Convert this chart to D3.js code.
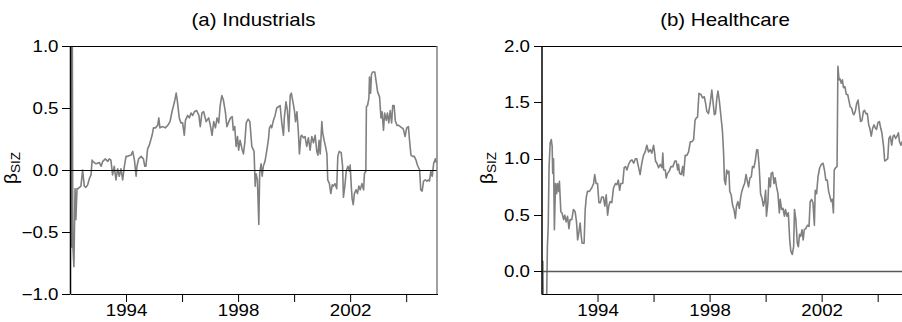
<!DOCTYPE html>
<html>
<head>
<meta charset="utf-8">
<script src="https://cdn.jsdelivr.net/npm/d3@7"></script>
<style>
  body { margin: 0; background: #fff; }
  svg { display: block; }
</style>
</head>
<body>
<div id="chart"></div>
<script>
// beta_SIZ estimates: [decimal year, beta]
const indPoints = [
  [1992.00, 1.40], [1992.02, -0.62], [1992.04, 1.40], [1992.06, -0.62], [1992.08, 1.40],
  [1992.10, -0.60], [1992.14, -0.78], [1992.18, -0.15], [1992.21, -0.40], [1992.25, -0.15],
  [1992.29, -0.15], [1992.39, -0.13], [1992.45, 0.00], [1992.51, -0.13], [1992.57, -0.14],
  [1992.63, -0.12], [1992.69, -0.07], [1992.75, -0.04], [1992.79, 0.08], [1992.81, 0.07],
  [1992.93, 0.05], [1993.05, 0.06], [1993.11, 0.03], [1993.17, 0.07], [1993.26, 0.09],
  [1993.35, 0.07], [1993.40, 0.09], [1993.46, 0.08], [1993.52, -0.04], [1993.58, 0.03],
  [1993.64, -0.08], [1993.70, 0.01], [1993.76, -0.05], [1993.82, 0.01], [1993.88, -0.08],
  [1993.94, 0.03], [1994.00, 0.11], [1994.06, 0.11], [1994.18, 0.12], [1994.24, 0.15],
  [1994.30, 0.08], [1994.36, -0.05], [1994.39, 0.03], [1994.45, 0.09], [1994.54, 0.11],
  [1994.62, 0.09], [1994.67, 0.03], [1994.71, 0.03], [1994.77, 0.17], [1994.83, 0.20],
  [1994.93, 0.28], [1994.98, 0.34], [1995.05, 0.34], [1995.13, 0.36], [1995.17, 0.42],
  [1995.21, 0.34], [1995.31, 0.35], [1995.40, 0.34], [1995.49, 0.36], [1995.57, 0.39],
  [1995.64, 0.47], [1995.73, 0.55], [1995.79, 0.62], [1995.83, 0.56], [1995.90, 0.42],
  [1995.96, 0.38], [1996.02, 0.38], [1996.08, 0.28], [1996.12, 0.40], [1996.20, 0.44],
  [1996.26, 0.42], [1996.32, 0.46], [1996.38, 0.44], [1996.44, 0.47], [1996.52, 0.48],
  [1996.60, 0.44], [1996.65, 0.35], [1996.71, 0.46], [1996.77, 0.47], [1996.86, 0.39],
  [1996.95, 0.42], [1997.01, 0.36], [1997.07, 0.28], [1997.13, 0.39], [1997.19, 0.34],
  [1997.25, 0.42], [1997.31, 0.38], [1997.36, 0.52], [1997.42, 0.60], [1997.48, 0.56],
  [1997.55, 0.46], [1997.60, 0.35], [1997.67, 0.39], [1997.73, 0.42], [1997.79, 0.43],
  [1997.83, 0.32], [1997.88, 0.35], [1997.93, 0.19], [1997.98, 0.27], [1998.02, 0.16],
  [1998.07, 0.24], [1998.14, 0.17], [1998.19, 0.13], [1998.24, 0.22], [1998.29, 0.38],
  [1998.36, 0.41], [1998.42, 0.39], [1998.49, 0.19], [1998.57, 0.15], [1998.61, -0.13],
  [1998.64, -0.03], [1998.69, -0.08], [1998.74, -0.44], [1998.77, -0.03], [1998.82, 0.05],
  [1998.86, -0.05], [1998.90, 0.03], [1998.96, 0.07], [1999.02, 0.15], [1999.08, 0.24],
  [1999.12, 0.34], [1999.17, 0.36], [1999.20, 0.34], [1999.26, 0.40], [1999.32, 0.44],
  [1999.38, 0.50], [1999.44, 0.51], [1999.50, 0.52], [1999.56, 0.38], [1999.62, 0.28],
  [1999.65, 0.42], [1999.71, 0.55], [1999.76, 0.48], [1999.81, 0.31], [1999.86, 0.60],
  [1999.90, 0.62], [1999.95, 0.56], [2000.01, 0.48], [2000.05, 0.39], [2000.10, 0.47],
  [2000.15, 0.31], [2000.19, 0.13], [2000.24, 0.27], [2000.27, 0.28], [2000.33, 0.26],
  [2000.39, 0.27], [2000.45, 0.19], [2000.51, 0.26], [2000.57, 0.16], [2000.63, 0.27],
  [2000.69, 0.22], [2000.75, 0.28], [2000.81, 0.15], [2000.85, 0.12], [2000.89, 0.24],
  [2000.93, 0.13], [2000.99, 0.39], [2001.02, 0.30], [2001.07, 0.24], [2001.12, 0.19],
  [2001.17, 0.13], [2001.20, -0.08], [2001.26, -0.11], [2001.31, -0.19], [2001.36, -0.12],
  [2001.40, -0.13], [2001.46, -0.11], [2001.52, -0.15], [2001.56, 0.11], [2001.61, 0.15],
  [2001.68, 0.14], [2001.73, 0.03], [2001.76, -0.22], [2001.81, -0.13], [2001.86, -0.01],
  [2001.92, 0.03], [2001.98, -0.01], [2002.00, 0.04], [2002.04, -0.13], [2002.07, -0.23],
  [2002.11, -0.28], [2002.15, -0.19], [2002.21, -0.16], [2002.26, -0.19], [2002.31, -0.13],
  [2002.36, -0.16], [2002.42, -0.11], [2002.48, -0.16], [2002.51, -0.03], [2002.56, -0.01],
  [2002.58, 0.51], [2002.62, 0.52], [2002.67, 0.58], [2002.69, 0.75], [2002.73, 0.62],
  [2002.76, 0.77], [2002.80, 0.79], [2002.88, 0.79], [2002.93, 0.71], [2002.98, 0.63],
  [2003.05, 0.59], [2003.10, 0.42], [2003.14, 0.47], [2003.19, 0.32], [2003.23, 0.46],
  [2003.29, 0.40], [2003.33, 0.46], [2003.38, 0.38], [2003.43, 0.48], [2003.48, 0.38],
  [2003.52, 0.52], [2003.57, 0.52], [2003.61, 0.40], [2003.67, 0.36], [2003.73, 0.36],
  [2003.79, 0.35], [2003.85, 0.34], [2003.90, 0.33], [2003.96, 0.27], [2004.02, 0.34],
  [2004.08, 0.35], [2004.12, 0.24], [2004.17, 0.12], [2004.23, 0.11], [2004.29, 0.11],
  [2004.35, 0.08], [2004.40, 0.04], [2004.48, 0.00], [2004.52, -0.16], [2004.57, -0.17],
  [2004.62, -0.09], [2004.68, -0.08], [2004.74, -0.09], [2004.80, -0.08], [2004.83, -0.09],
  [2004.88, -0.01], [2004.93, -0.05], [2004.98, 0.05], [2005.04, 0.09], [2005.07, 0.06]
]

const hcPoints = [
  [1992.00, 0.09], [1992.05, 0.09], [1992.07, -0.50], [1992.17, -0.50], [1992.21, 0.22],
  [1992.24, 0.40], [1992.27, 0.93], [1992.31, 1.14], [1992.35, 1.17], [1992.38, 1.11],
  [1992.40, 0.87], [1992.43, 1.00], [1992.46, 0.37], [1992.50, 0.78], [1992.54, 0.69],
  [1992.57, 0.78], [1992.61, 0.71], [1992.64, 0.80], [1992.69, 0.53], [1992.73, 0.52],
  [1992.79, 0.46], [1992.83, 0.50], [1992.88, 0.44], [1992.93, 0.49], [1992.98, 0.38],
  [1993.02, 0.46], [1993.08, 0.46], [1993.14, 0.55], [1993.20, 0.53], [1993.25, 0.44],
  [1993.29, 0.28], [1993.33, 0.34], [1993.38, 0.43], [1993.42, 0.31], [1993.45, 0.25],
  [1993.52, 0.25], [1993.56, 0.55], [1993.60, 0.66], [1993.64, 0.71], [1993.71, 0.71],
  [1993.79, 0.74], [1993.86, 0.78], [1993.90, 0.86], [1993.95, 0.78], [1994.00, 0.78],
  [1994.05, 0.61], [1994.10, 0.61], [1994.15, 0.66], [1994.21, 0.66], [1994.26, 0.58],
  [1994.31, 0.68], [1994.36, 0.50], [1994.40, 0.58], [1994.45, 0.62], [1994.51, 0.61],
  [1994.57, 0.74], [1994.64, 0.78], [1994.69, 0.77], [1994.74, 0.81], [1994.79, 0.72],
  [1994.83, 0.78], [1994.90, 0.78], [1994.95, 0.92], [1995.00, 0.93], [1995.05, 0.90],
  [1995.11, 0.95], [1995.17, 0.98], [1995.23, 0.99], [1995.29, 0.96], [1995.35, 1.00],
  [1995.40, 1.00], [1995.46, 0.93], [1995.52, 0.86], [1995.58, 0.96], [1995.64, 1.03],
  [1995.70, 1.06], [1995.76, 1.12], [1995.82, 1.06], [1995.88, 1.08], [1995.94, 1.05],
  [1996.00, 1.12], [1996.04, 1.05], [1996.07, 0.98], [1996.12, 0.96], [1996.18, 0.92],
  [1996.24, 0.95], [1996.30, 0.92], [1996.33, 1.05], [1996.36, 0.90], [1996.42, 0.90],
  [1996.45, 0.83], [1996.50, 0.87], [1996.56, 0.89], [1996.62, 0.93], [1996.69, 0.93],
  [1996.76, 0.98], [1996.81, 0.98], [1996.86, 0.90], [1996.89, 0.95], [1996.93, 0.87],
  [1996.99, 0.86], [1997.04, 0.93], [1997.07, 0.85], [1997.13, 1.03], [1997.19, 1.03],
  [1997.25, 1.06], [1997.31, 1.15], [1997.37, 1.15], [1997.43, 1.17], [1997.48, 1.34],
  [1997.52, 1.36], [1997.57, 1.37], [1997.62, 1.58], [1997.69, 1.57], [1997.75, 1.54],
  [1997.81, 1.55], [1997.86, 1.49], [1997.90, 1.42], [1997.96, 1.40], [1998.02, 1.49],
  [1998.08, 1.61], [1998.12, 1.51], [1998.17, 1.39], [1998.21, 1.40], [1998.26, 1.54],
  [1998.30, 1.60], [1998.35, 1.51], [1998.40, 1.39], [1998.46, 1.24], [1998.50, 1.05],
  [1998.53, 0.81], [1998.57, 0.77], [1998.61, 0.90], [1998.65, 0.87], [1998.69, 0.89],
  [1998.72, 0.71], [1998.77, 0.68], [1998.82, 0.59], [1998.87, 0.55], [1998.92, 0.47],
  [1998.96, 0.58], [1999.01, 0.62], [1999.06, 0.56], [1999.11, 0.66], [1999.15, 0.71],
  [1999.20, 0.75], [1999.25, 0.78], [1999.30, 0.86], [1999.34, 0.81], [1999.39, 0.75],
  [1999.44, 0.83], [1999.49, 0.84], [1999.53, 0.93], [1999.58, 0.92], [1999.63, 0.98],
  [1999.68, 1.08], [1999.72, 1.08], [1999.77, 0.93], [1999.82, 0.69], [1999.87, 0.65],
  [1999.92, 0.58], [1999.96, 0.62], [2000.00, 0.72], [2000.03, 0.49], [2000.08, 0.61],
  [2000.12, 0.83], [2000.17, 0.75], [2000.20, 0.87], [2000.25, 0.88], [2000.30, 0.78],
  [2000.34, 0.83], [2000.39, 0.75], [2000.44, 0.69], [2000.49, 0.52], [2000.52, 0.64],
  [2000.57, 0.55], [2000.62, 0.56], [2000.67, 0.49], [2000.71, 0.55], [2000.76, 0.49],
  [2000.81, 0.52], [2000.86, 0.28], [2000.90, 0.18], [2000.95, 0.15], [2001.00, 0.22],
  [2001.03, 0.55], [2001.08, 0.46], [2001.13, 0.25], [2001.17, 0.22], [2001.21, 0.33],
  [2001.25, 0.31], [2001.30, 0.37], [2001.34, 0.28], [2001.38, 0.37], [2001.43, 0.38],
  [2001.49, 0.41], [2001.55, 0.40], [2001.59, 0.62], [2001.64, 0.64], [2001.69, 0.61],
  [2001.74, 0.41], [2001.77, 0.72], [2001.82, 0.69], [2001.87, 0.84], [2001.93, 0.92],
  [2001.99, 0.95], [2002.05, 0.96], [2002.10, 0.90], [2002.15, 0.81], [2002.20, 0.81],
  [2002.25, 0.71], [2002.30, 0.66], [2002.34, 0.62], [2002.38, 0.64], [2002.42, 0.52],
  [2002.45, 0.90], [2002.50, 0.92], [2002.55, 0.93], [2002.58, 1.82], [2002.62, 1.70],
  [2002.65, 1.71], [2002.70, 1.67], [2002.74, 1.70], [2002.78, 1.63], [2002.83, 1.64],
  [2002.88, 1.57], [2002.93, 1.57], [2002.97, 1.52], [2003.02, 1.46], [2003.07, 1.45],
  [2003.12, 1.40], [2003.15, 1.39], [2003.20, 1.42], [2003.25, 1.49], [2003.30, 1.52],
  [2003.34, 1.43], [2003.39, 1.33], [2003.44, 1.34], [2003.49, 1.42], [2003.53, 1.43],
  [2003.58, 1.40], [2003.63, 1.40], [2003.68, 1.30], [2003.72, 1.27], [2003.77, 1.20],
  [2003.82, 1.27], [2003.87, 1.30], [2003.92, 1.27], [2003.96, 1.26], [2004.01, 1.32],
  [2004.06, 1.33], [2004.11, 1.27], [2004.15, 1.23], [2004.21, 1.11], [2004.25, 0.98],
  [2004.31, 0.99], [2004.36, 1.00], [2004.40, 1.18], [2004.45, 1.20], [2004.50, 1.12],
  [2004.55, 1.20], [2004.59, 1.21], [2004.64, 1.18], [2004.69, 1.20], [2004.74, 1.23],
  [2004.78, 1.15], [2004.83, 1.12], [2004.87, 1.15], [2004.95, 1.14]
]

const yearTicks = [1994, 1996, 1998, 2000, 2002, 2004]
const yearLabels = [1994, 1998, 2002]
const indTicks = [-1, -0.5, 0, 0.5, 1]
const hcTicks = [0, 0.5, 1, 1.5, 2]

const width = 902
const height = 322
const font = "'Liberation Sans', Arial, Helvetica, sans-serif"
// the source figure is a bit stretched sideways, so text gets the same stretch
const sx = 1.17

const svg = d3.select("#chart")
  .append("svg")
  .attr("width", width)
  .attr("height", height)

function drawPanel(p) {
  const w = 367
  const h = 248
  const top = 46

  const g = svg.append("g").attr("transform", "translate(" + p.left + "," + top + ")")

  const x = d3.scaleLinear().domain([1992.0, 2005.1]).range([0, w])
  const y = d3.scaleLinear().domain(p.yDomain).range([h, 0])

  g.append("clipPath")
    .attr("id", p.id + "-clip")
    .append("rect")
    .attr("width", w)
    .attr("height", h)

  const line = d3.line()
    .x(d => x(d[0]))
    .y(d => y(d[1]))

  g.append("path")
    .datum(p.points)
    .attr("clip-path", "url(#" + p.id + "-clip)")
    .attr("fill", "none")
    .attr("stroke", "#808080")
    .attr("stroke-width", 1.6)
    .attr("stroke-linejoin", "round")
    .attr("d", line)

  // zero reference line, drawn over the series
  g.append("line")
    .attr("x1", 0).attr("x2", w)
    .attr("y1", y(0) + p.zeroShift).attr("y2", y(0) + p.zeroShift)
    .attr("stroke", p.zeroColor)
    .attr("stroke-width", p.zeroWidth)

  // box: top and right sides
  g.append("line")
    .attr("x1", 0).attr("x2", w).attr("y1", 0.5).attr("y2", 0.5)
    .attr("stroke", "#000").attr("stroke-width", 1)
    .attr("shape-rendering", "crispEdges")
  g.append("line")
    .attr("x1", w).attr("x2", w).attr("y1", 0).attr("y2", h)
    .attr("stroke", "#6e6e6e").attr("stroke-width", 1.3)

  // y axis
  const yAxis = d3.axisLeft(y)
    .tickValues(p.ticks)
    .tickSize(8)
    .tickSizeOuter(0)
    .tickFormat(d3.format(".1f"))
  const ya = g.append("g").call(yAxis)
  ya.attr("font-family", font).attr("font-size", 16)
  ya.select(".domain").attr("stroke", "#000").attr("stroke-width", 1.5)
  ya.selectAll(".tick line").attr("shape-rendering", "crispEdges")
  ya.selectAll("text")
    .attr("fill", "#000")
    .attr("x", -11.5 / sx)
    .attr("transform", "scale(" + sx + ",1)")

  // x axis
  const xAxis = d3.axisBottom(x)
    .tickValues(yearTicks)
    .tickSize(8)
    .tickPadding(3)
    .tickSizeOuter(0)
    .tickFormat(d => yearLabels.includes(d) ? d : "")
  const xa = g.append("g").attr("transform", "translate(0," + h + ")").call(xAxis)
  xa.attr("font-family", font).attr("font-size", 16)
  xa.select(".domain").attr("stroke", "#000").attr("shape-rendering", "crispEdges")
  xa.selectAll("text")
    .attr("fill", "#000")
    .attr("transform", "scale(" + sx + ",1)")

  // title
  g.append("text")
    .attr("transform", "translate(" + (w / 2) + ",-20) scale(" + sx + ",1)")
    .attr("text-anchor", "middle")
    .attr("font-family", font)
    .attr("font-size", 17.5)
    .text(p.title)

  // y label: beta with subscript SIZ
  const lab = g.append("text")
    .attr("transform", "translate(" + (-p.labelOffset) + "," + (h / 2 - 2) + ") rotate(-90)")
    .attr("text-anchor", "middle")
    .attr("font-family", font)
  lab.append("tspan").attr("font-size", 19).text("β")
  lab.append("tspan").attr("font-size", 13.5).attr("dy", 3).text("SIZ")
}

drawPanel({
  id: "ind",
  left: 70,
  title: "(a) Industrials",
  points: indPoints,
  yDomain: [-1, 1],
  ticks: indTicks,
  zeroColor: "#000",
  zeroWidth: 1.2,
  zeroShift: 0.5,
  labelOffset: 53
})

drawPanel({
  id: "hc",
  left: 541.5,
  title: "(b) Healthcare",
  points: hcPoints,
  yDomain: [-0.2, 2],
  ticks: hcTicks,
  zeroColor: "#595959",
  zeroWidth: 1.6,
  zeroShift: 0,
  labelOffset: 49
})
</script>
</body>
</html>
